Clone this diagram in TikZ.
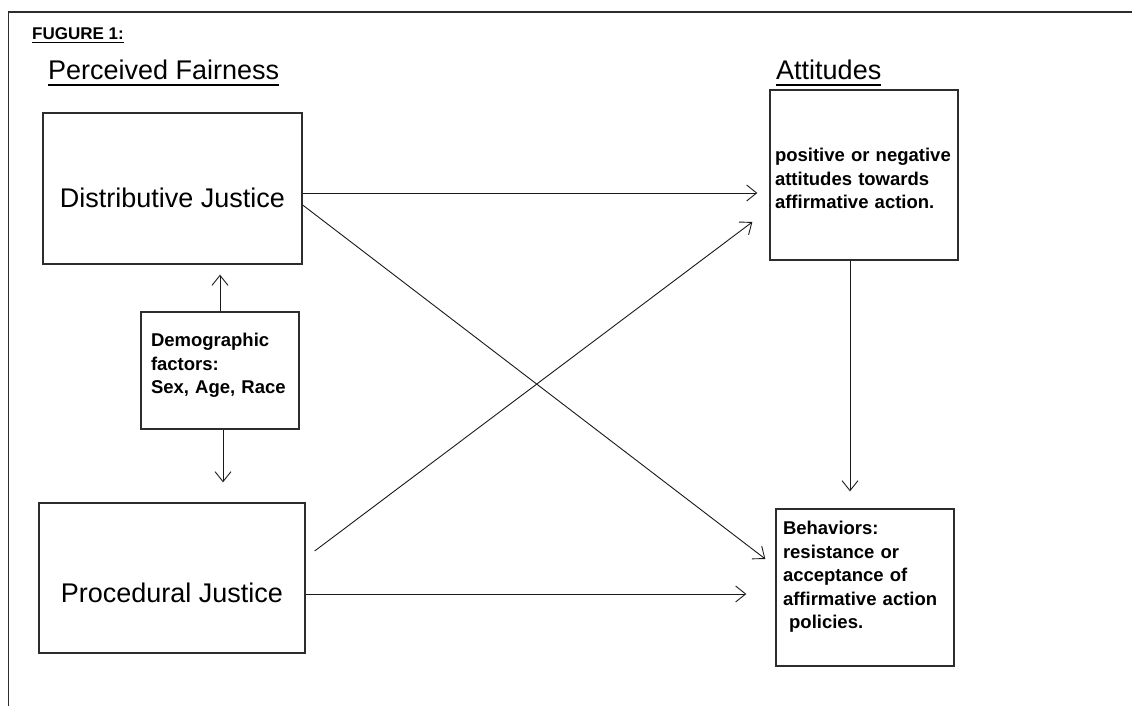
\documentclass[tikz,border=0pt]{standalone}
\usepackage{fontspec}
\setmainfont{Liberation Sans}
\usetikzlibrary{arrows.meta, positioning}
\definecolor{boxline}{RGB}{45,45,45}
\definecolor{arrline}{RGB}{25,25,25}

\begin{document}
\begin{tikzpicture}[
    x=1pt, y=-1pt,
    >={Straight Barb[length=10pt, width=16pt]},
    box/.style   = {rectangle, draw=boxline, line width=1.3pt, inner sep=0pt},
    bigtxt/.style = {font=\fontsize{27}{32}\selectfont, text depth=0pt},
    small/.style = {font=\fontsize{18.5}{23.5}\selectfont\bfseries, align=left, text height=14pt},
    head/.style  = {font=\fontsize{27}{32}\selectfont, anchor=base west, inner sep=0pt},
    uline/.style = {line width=2.6pt, black},
    arr/.style   = {->, line width=0.9pt, arrline},
]
\useasboundingbox (0,0) rectangle (1132,706);

% ---------------- frame and headings ----------------
\draw[line width=1.8pt, boxline] (8.5,706) -- (8.5,12) -- (1132,12);
\node[head, font=\fontsize{17}{20}\selectfont\bfseries] (fig) at (32,40) {FUGURE 1:};
\draw[line width=1.2pt] ([yshift=-2.5pt]fig.south west) -- ([yshift=-2.5pt]fig.south east);
\node[head] (pf) at (48,80) {Perceived Fairness};
\draw[uline] ([yshift=-4.5pt]pf.south west) -- ([yshift=-4.5pt]pf.south east);
\node[head] (atth) at (776,80) {Attitudes};
\draw[uline] ([yshift=-4.5pt]atth.south west) -- ([yshift=-4.5pt]atth.south east);

% ---------------- boxes ----------------
\node[box, bigtxt, text height=37pt, minimum width=259pt, minimum height=151pt] (dist) at (172.5,188.5) {Distributive Justice};
\node[box, bigtxt, text height=48pt, minimum width=266pt, minimum height=150pt] (proc) at (172,578) {Procedural Justice};
\node[box, small, text width=138pt, text depth=62pt, minimum width=158pt, minimum height=117pt] (demo) at (220,370.5) {Demographic\\factors:\\Sex, Age, Race};
\node[box, small, text width=178pt, text depth=41pt, minimum width=188pt, minimum height=170pt] (att) at (864,175) {positive or negative\\attitudes towards\\affirmative action.};
\node[box, small, text width=164pt, text depth=120pt, minimum width=178pt, minimum height=157pt] (beh) at (865,587.5) {Behaviors:\\resistance or\\acceptance of\\affirmative action\\\ policies.};

% ---------------- connectors ----------------
\draw[arr] (demo.north) -- ([xshift=47.5pt, yshift=-10pt]dist.south);
\draw[arr] ([xshift=3pt]demo.south) -- ([xshift=51pt, yshift=20pt]proc.north);
\draw[arr] ([yshift=-4.5pt]dist.east) -- ([xshift=-12pt, yshift=-18pt]att.west);
\draw[arr] ([yshift=-16.5pt]dist.east) -- ([xshift=-10pt, yshift=28.5pt]beh.west);
\draw[arr] ([xshift=9pt, yshift=27pt]proc.east) -- ([xshift=-17pt, yshift=-47pt]att.west);
\draw[arr] ([yshift=-16pt]proc.east) -- ([xshift=-29pt, yshift=-6.5pt]beh.west);
\draw[arr] ([xshift=-14pt]att.south) -- ([xshift=-15pt, yshift=17pt]beh.north);

\end{tikzpicture}
\end{document}
